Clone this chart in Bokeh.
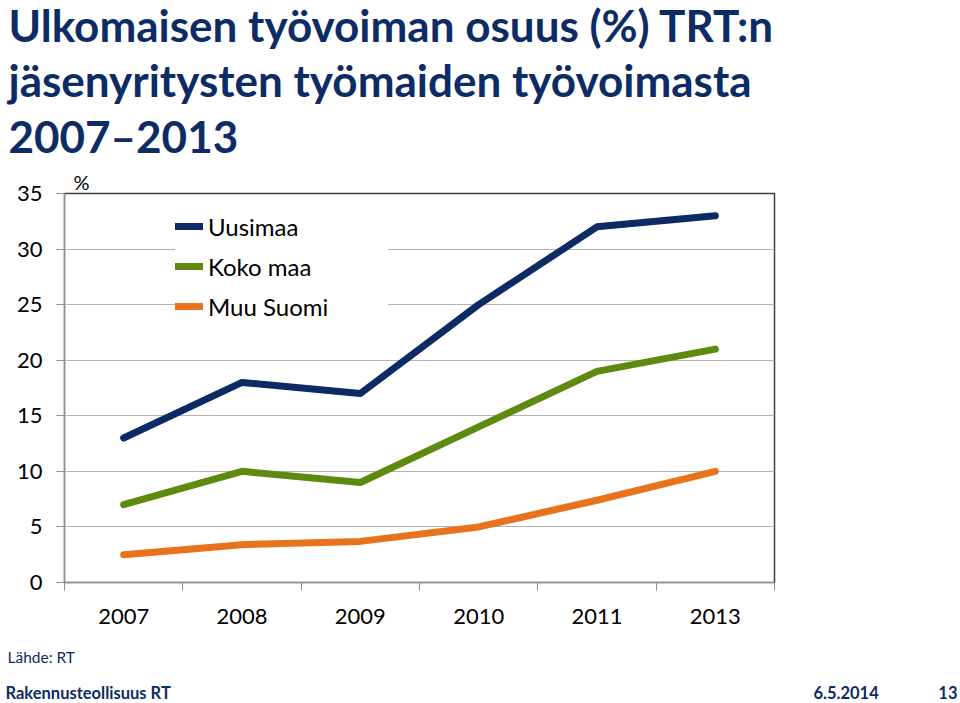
from bokeh.plotting import figure
from bokeh.models import Range1d, FixedTicker, Title
from bokeh.layouts import column, row
from bokeh.core.properties import value
from bokeh.embed import file_html
from bokeh.resources import INLINE

years = ["2007", "2008", "2009", "2010", "2011", "2013"]
uusimaa = [13, 18, 17, 25, 32, 33]
koko_maa = [7, 10, 9, 14, 19, 21]
muu_suomi = [2.5, 3.4, 3.7, 5.0, 7.4, 10]

series = [
    ("Uusimaa", uusimaa, "#0c2b64"),
    ("Koko maa", koko_maa, "#5e8a10"),
    ("Muu Suomi", muu_suomi, "#e8731c"),
]

title_lines = [
    "Ulkomaisen työvoiman osuus (%) TRT:n",
    "jäsenyritysten työmaiden työvoimasta",
    "2007–2013",
]

FONT = "Lato"
NAVY = "#0d2b64"

TOP_H = 165
CHART_H = 480
BOT_H = 703 - TOP_H - CHART_H
TOP_BORDER = 28


def text_fig(h):
    f = figure(width=960, height=h, output_backend="svg", toolbar_location=None,
               x_range=Range1d(0, 960), y_range=Range1d(h, 0),
               x_axis_type=None, y_axis_type=None, min_border=0)
    f.outline_line_color = None
    f.xgrid.grid_line_color = None
    f.ygrid.grid_line_color = None
    return f


# ---- title area
top = text_fig(TOP_H)
top.text(x=[8] * len(title_lines), y=[24 + 55.5 * i for i in range(len(title_lines))],
         text=title_lines, text_font=value(FONT), text_font_size="44px",
         text_font_style="bold", text_color=NAVY, text_baseline="middle")

# ---- chart
xs = [i + 0.5 for i in range(len(years))]

p = figure(width=960, height=CHART_H, output_backend="svg", toolbar_location=None,
           x_range=Range1d(0, len(years)), y_range=Range1d(0, 35),
           min_border_left=64, min_border_right=186, min_border_top=TOP_BORDER,
           min_border_bottom=CHART_H - TOP_BORDER - 389)
p.outline_line_color = "#404040"
p.outline_line_width = 1.5

p.add_layout(Title(text="%", align="left", offset=9, standoff=0,
                   text_font=FONT, text_font_size="20px", text_font_style="normal",
                   text_color="#000000"), "above")

for name, vals, col in series:
    p.line(xs, vals, line_width=7, color=col, legend_label=name,
           line_cap="round", line_join="round")

p.xaxis.ticker = FixedTicker(ticks=xs, minor_ticks=list(range(len(years) + 1)))
p.xaxis.major_label_overrides = {x: y for x, y in zip(xs, years)}
p.xaxis.major_tick_line_color = None
p.xaxis.major_tick_out = 0
p.xaxis.major_tick_in = 0
p.xaxis.minor_tick_out = 8
p.xaxis.minor_tick_in = 0
p.xaxis.minor_tick_line_color = "#909090"
p.xaxis.axis_line_color = "#909090"
p.xaxis.major_label_standoff = 18
p.xaxis.major_label_text_font = FONT
p.xaxis.major_label_text_font_size = "22px"
p.xaxis.major_label_text_color = "#000000"

p.yaxis.ticker = FixedTicker(ticks=list(range(0, 36, 5)))
p.yaxis.major_tick_out = 8
p.yaxis.major_tick_in = 0
p.yaxis.minor_tick_line_color = None
p.yaxis.major_tick_line_color = "#909090"
p.yaxis.axis_line_color = "#909090"
p.yaxis.major_label_standoff = 14
p.yaxis.major_label_text_font = FONT
p.yaxis.major_label_text_font_size = "22px"
p.yaxis.major_label_text_color = "#000000"

p.xgrid.grid_line_color = None
p.ygrid.grid_line_color = "#b4b4b4"
p.ygrid.grid_line_width = 1.2

lg = p.legend[0]
lg.location = (111, 261)
lg.background_fill_color = "white"
lg.background_fill_alpha = 1
lg.border_line_color = None
lg.glyph_width = 28
lg.glyph_height = 30
lg.label_height = 30
lg.label_width = 180
lg.spacing = 10
lg.padding = 5
lg.margin = 0
lg.label_standoff = 5
lg.label_text_font = FONT
lg.label_text_font_size = "24px"
lg.label_text_color = "#000000"

# ---- footer
bot = text_fig(BOT_H)
y0 = 703 - BOT_H
bot.text(x=[7], y=[656 - y0], text=["Lähde: RT"], text_font=value(FONT),
         text_font_size="15.5px", text_color=NAVY, text_baseline="middle")
bot.text(x=[5, 813], y=[692 - y0, 692 - y0], text=["Rakennusteollisuus RT", "6.5.2014"],
         text_font=value(FONT), text_font_size="16.5px", text_font_style="bold",
         text_color=NAVY, text_baseline="middle")
bot.text(x=[957], y=[692 - y0], text=["13"], text_font=value(FONT),
         text_font_size="16.5px", text_font_style="bold", text_color=NAVY,
         text_baseline="middle", text_align="right")

layout = column(row(top), p, row(bot), spacing=0)
open("out.html", "w").write(file_html(layout, INLINE))
